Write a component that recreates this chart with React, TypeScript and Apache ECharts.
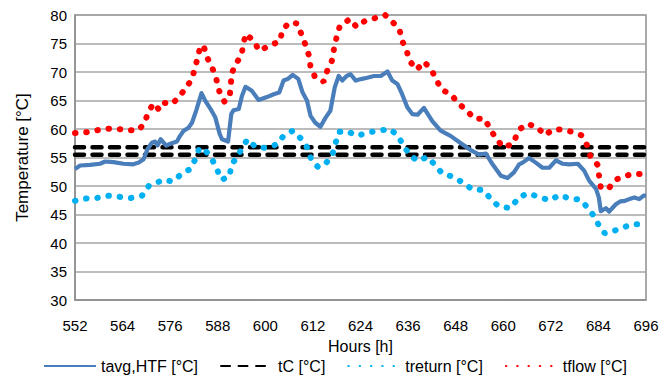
import React, { useEffect, useRef } from "react";
import * as echarts from "echarts";

// ---- data ----
const xTicksMin = 552;
const xTicksMax = 696;
const xInterval = 12;

const tavgHours = [552, 553.3, 555.8, 558.3, 559.6, 561.7, 564.2, 566.7, 568, 569.3, 570.3, 571.4, 572.2, 572.8, 573.6, 575, 576.4, 577.7, 578.5, 579.4, 580.6, 581.5, 582.6, 583.9, 584.9, 586.2, 587.4, 588.5, 589.1, 590.6, 591.4, 592, 593.3, 594.1, 595, 596.6, 598.3, 600.4, 602.1, 603.5, 604.6, 605.7, 606.9, 608.3, 609.4, 610.5, 611.4, 612.6, 613.9, 615.2, 616.4, 617.5, 618.5, 619.4, 620.5, 621.5, 622.8, 624.4, 625.7, 627.4, 629.1, 630.8, 632, 633.3, 634.5, 635.8, 637.1, 638.4, 640, 642.1, 644.2, 646.7, 649.3, 651.8, 653.9, 655.6, 657.3, 659.4, 661.1, 662.7, 664, 664.9, 666.5, 668.2, 669.9, 671.6, 673.3, 675, 676.6, 678.8, 680.4, 681.7, 683.4, 684.1, 684.6, 685.9, 686.7, 688.4, 689.5, 690.7, 691.8, 693.1, 694.3, 695.4, 696];
const tavgValues = [53.0, 53.6, 53.7, 53.9, 54.3, 54.2, 53.9, 53.8, 54.1, 54.7, 56.5, 57.6, 57.8, 57.1, 58.2, 57.1, 57.5, 57.8, 58.8, 59.7, 60.2, 61.1, 63.3, 66.3, 64.9, 63.5, 62.0, 59.1, 58.2, 57.8, 62.6, 63.3, 63.5, 65.8, 67.4, 66.7, 65.1, 65.6, 66.1, 66.4, 68.5, 68.8, 69.5, 68.8, 66.4, 65.0, 62.3, 61.1, 60.4, 62.0, 63.2, 67.3, 69.3, 68.5, 69.3, 69.6, 68.5, 68.8, 69.0, 69.3, 69.3, 70.1, 68.5, 67.9, 66.1, 63.8, 62.6, 62.5, 63.7, 61.4, 59.7, 58.8, 57.5, 56.3, 55.5, 55.7, 53.8, 51.8, 51.4, 52.4, 53.8, 54.1, 54.9, 54.1, 53.2, 53.2, 54.5, 53.9, 53.8, 53.9, 52.7, 50.9, 49.5, 48.0, 45.6, 46.1, 45.5, 46.8, 47.3, 47.4, 47.7, 48.0, 47.7, 48.3, 48.3];

const tcHours = [552, 696];
const tcUpper = [56.8, 56.8];
const tcLower = [55.5, 55.5];

const treturnHours = [552, 554.5, 557.5, 560.3, 563.2, 566.1, 568.9, 570.6, 572.4, 574.2, 576.6, 578.7, 581.1, 582.4, 583.4, 584.8, 586.5, 587.8, 589, 591, 591.4, 592.9, 594.1, 595.5, 597.6, 600.1, 602.9, 604.6, 606.9, 609, 610.6, 611.5, 613.3, 615.3, 616.9, 617.7, 618.6, 620.7, 623.2, 625.9, 628.7, 631.4, 633.3, 634.8, 636.3, 638.4, 640.9, 642.8, 644.6, 647.4, 649.8, 652.2, 654.9, 656.8, 658.7, 661.7, 663.4, 664, 666.5, 669.2, 671.8, 674.1, 676.8, 679.5, 681.4, 683.1, 684.3, 685.6, 687.8, 690.2, 692.5, 696];
const treturnValues = [47.4, 47.8, 47.9, 48.3, 48.1, 47.9, 48.3, 50.0, 50.5, 51.1, 50.8, 52.0, 53.0, 54.8, 56.7, 56.3, 54.8, 52.9, 51.1, 51.7, 53.7, 55.1, 56.6, 58.2, 56.8, 56.7, 57.3, 58.8, 59.7, 58.3, 56.7, 54.8, 53.3, 54.0, 55.5, 57.5, 59.5, 59.6, 58.8, 59.4, 59.7, 60.0, 58.9, 57.2, 55.5, 54.4, 55.1, 53.7, 52.2, 51.6, 50.6, 49.4, 49.3, 47.8, 46.5, 46.1, 47.5, 48.1, 48.7, 48.0, 47.5, 48.4, 47.8, 47.6, 46.1, 44.5, 42.8, 41.7, 42.1, 42.7, 43.3, 43.3];

const tflowHours = [552, 556, 559, 562, 565, 568, 569.5, 570.5, 571.8, 573.2, 574.3, 576.5, 578.3, 580, 581.5, 582.3, 583, 583.7, 584.6, 585.5, 586.8, 587.7, 588.4, 589.7, 591, 591.3, 591.5, 592.5, 594, 594.4, 595.1, 597.1, 598.5, 600.9, 603.7, 604.3, 606.1, 608.1, 609.1, 610.1, 611, 611.4, 612.6, 614.7, 615.6, 616.8, 617.3, 618, 618.8, 619.4, 621.3, 623, 625.2, 628, 630.2, 632, 633.8, 634.4, 635.6, 636.3, 638.2, 640, 641.8, 643.1, 644.4, 646.8, 648.7, 650.8, 652.8, 655.3, 656.7, 658.2, 660, 662.5, 663.4, 664, 666.1, 668.6, 670.5, 672.5, 674.8, 677.4, 679.7, 681.1, 682, 683.8, 684.2, 684.6, 686.5, 688.3, 690.3, 692.3, 694.7, 696];
const tflowValues = [59.3, 59.5, 60.0, 60.1, 59.8, 59.8, 61.0, 63.0, 64.5, 63.4, 64.6, 64.4, 65.7, 67.2, 68.8, 70.8, 72.7, 74.7, 74.2, 72.3, 70.4, 68.6, 66.6, 64.8, 65.7, 67.7, 69.7, 71.4, 72.9, 74.8, 76.7, 75.4, 73.7, 74.6, 75.4, 77.4, 78.7, 78.5, 76.6, 74.8, 72.9, 70.9, 69.0, 68.3, 70.2, 72.0, 74.0, 76.2, 78.1, 78.3, 79.3, 77.9, 79.0, 79.5, 80.0, 78.8, 77.6, 75.6, 73.9, 72.0, 70.4, 71.8, 70.5, 68.7, 66.9, 66.1, 64.5, 63.2, 61.8, 61.8, 60.0, 58.3, 56.8, 57.4, 59.0, 59.9, 60.9, 60.3, 58.9, 59.9, 59.9, 59.5, 58.9, 57.2, 55.2, 53.7, 51.6, 49.7, 49.5, 51.1, 51.6, 52.1, 52.1, 52.2];

const seriesNames = ["tavg,HTF [°C]", "tC [°C]", "treturn [°C]", "tflow [°C]"];

const pairs = (xs: number[], ys: number[]) => xs.map((x, i) => [x, ys[i]]);

const FONT = "'Liberation Sans', Arial, sans-serif";

export default function App() {
  const ref = useRef<HTMLDivElement>(null);

  useEffect(() => {
    if (!ref.current) return;
    const chart = echarts.init(ref.current, undefined, { renderer: "svg" });
    const dotStyle = (color: string) => ({
      color,
      width: 6,
      type: [0.5, 10.8] as any,
      cap: "round" as const,
    });
    const dashStyle = {
      color: "#000000",
      width: 4.5,
      type: [9, 8.5] as any,
      cap: "round" as const,
    };
    chart.setOption({
      animation: false,
      backgroundColor: "#ffffff",
      textStyle: { fontFamily: FONT },
      grid: {
        left: 75,
        right: 24,
        top: 15,
        bottom: 85,
        show: true,
        borderColor: "#8f8f8f",
        borderWidth: 1.5,
      },
      legend: {
        data: seriesNames,
        bottom: 6,
        left: "center",
        itemWidth: 52,
        itemHeight: 14,
        itemGap: 22,
        itemStyle: { opacity: 0 },
        textStyle: { fontFamily: FONT, fontSize: 16, color: "#000" },
      },
      xAxis: {
        type: "value",
        min: xTicksMin,
        max: xTicksMax,
        interval: xInterval,
        name: "Hours [h]",
        nameLocation: "middle",
        nameGap: 38,
        nameTextStyle: { fontFamily: FONT, fontSize: 16, color: "#000" },
        axisLine: { show: true, lineStyle: { color: "#8f8f8f", width: 1.5 } },
        axisTick: { show: false },
        axisLabel: { fontFamily: FONT, fontSize: 15, color: "#000", margin: 18 },
        splitLine: { show: false },
      },
      yAxis: {
        type: "value",
        min: 30,
        max: 80,
        interval: 5,
        name: "Temperature [°C]",
        nameLocation: "middle",
        nameGap: 44,
        nameTextStyle: { fontFamily: FONT, fontSize: 17, color: "#000" },
        axisLine: { show: true, lineStyle: { color: "#8f8f8f", width: 1.5 } },
        axisTick: { show: false },
        axisLabel: { fontFamily: FONT, fontSize: 15, color: "#000", margin: 8 },
        splitLine: { show: true, lineStyle: { color: "#a6a6a6", width: 1.5 } },
      },
      series: [
        {
          name: seriesNames[0],
          type: "line",
          data: pairs(tavgHours, tavgValues),
          symbol: "none",
          lineStyle: { color: "#4A7EBB", width: 4.2, join: "round" },
          itemStyle: { color: "#4A7EBB" },
          z: 3,
        },
        {
          name: seriesNames[1],
          type: "line",
          data: pairs(tcHours, tcUpper),
          symbol: "none",
          lineStyle: dashStyle,
          itemStyle: { color: "#000" },
          z: 2,
        },
        {
          name: seriesNames[1],
          type: "line",
          data: pairs(tcHours, tcLower),
          symbol: "none",
          lineStyle: dashStyle,
          itemStyle: { color: "#000" },
          z: 2,
        },
        {
          name: seriesNames[2],
          type: "line",
          data: pairs(treturnHours, treturnValues),
          symbol: "none",
          lineStyle: dotStyle("#00B0F0"),
          itemStyle: { color: "#00B0F0" },
          z: 4,
        },
        {
          name: seriesNames[3],
          type: "line",
          data: pairs(tflowHours, tflowValues),
          symbol: "none",
          lineStyle: dotStyle("#FF0000"),
          itemStyle: { color: "#FF0000" },
          z: 4,
        },
      ],
    });
    return () => chart.dispose();
  }, []);

  return <div ref={ref} style={{ width: 670, height: 385, position: "absolute", left: 0, top: 0 }} />;
}
